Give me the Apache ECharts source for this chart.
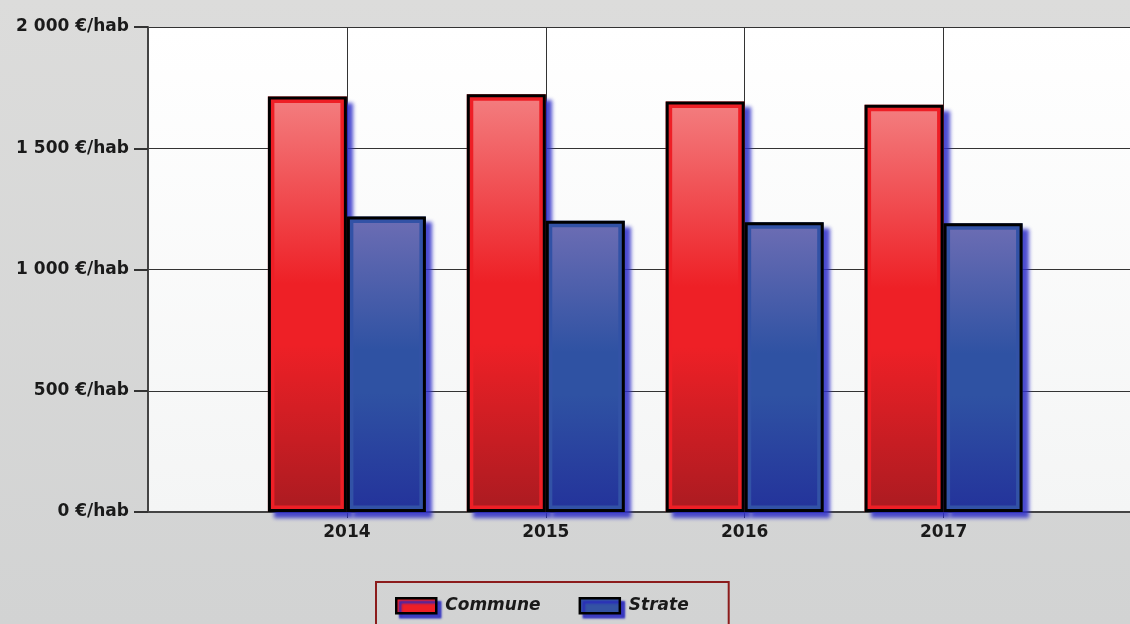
<!DOCTYPE html>
<html>
<head>
<meta charset="utf-8">
<script src="https://cdn.jsdelivr.net/npm/echarts@6/dist/echarts.min.js"></script>
<style>
  html, body { margin: 0; padding: 0; }
  #main { width: 1130px; height: 624px; }
</style>
</head>
<body>
<div id="main"></div>
<script>
// données
const years = [2014, 2015, 2016, 2017];
const commune = [1713, 1723, 1693, 1679];
const strate = [1219, 1201, 1195, 1191];
const yTicks = [0, 500, 1000, 1500, 2000];

const font = "'DejaVu Sans', Verdana, sans-serif";
const shadow = "rgba(45,45,200,0.85)";
const BAR_W = 79;
const INSET = 6.5;

let fmtHab = (v) => {
  // 2000 -> "2 000 €/hab"
  let s = String(v).replace(/\B(?=(\d{3})+(?!\d))/g, " ");
  return s + " €/hab";
};

let grad = (top, mid, bottom) =>
  new echarts.graphic.LinearGradient(0, 0, 0, 1, [
    { offset: 0, color: top },
    { offset: 0.45, color: mid },
    { offset: 0.6, color: mid },
    { offset: 1, color: bottom },
  ]);

let xMin = years[0] - 1;
let xMax = years[0] - 1 + 984 / 199.3;

let xAxisBase = {
  type: "value",
  min: xMin,
  max: xMax,
  interval: 1,
};
let yAxisBase = {
  type: "value",
  min: yTicks[0],
  max: yTicks[yTicks.length - 1],
  interval: 500,
};

// couche cadre + ombre
let fillSeries = (name, vals, frame) => ({
  name: name,
  type: "bar",
  xAxisIndex: 0,
  yAxisIndex: 0,
  data: years.map((y, i) => [y, vals[i]]),
  barWidth: BAR_W,
  barGap: "0%",
  itemStyle: {
    color: frame,
    borderWidth: 0,
    shadowColor: shadow,
    shadowBlur: 4,
    shadowOffsetX: 6,
    shadowOffsetY: 6,
  },
  z: 3,
});

// dégradé intérieur (side: -1 gauche, +1 droite)
let innerSeries = (name, vals, colors, side) => ({
  name: name,
  type: "custom",
  xAxisIndex: 0,
  yAxisIndex: 0,
  data: years.map((y, i) => [y, vals[i]]),
  renderItem: (params, api) => {
    let top = api.coord([api.value(0), api.value(1)]);
    let base = api.coord([api.value(0), 0]);
    let cx = top[0] + side * BAR_W / 2;
    let x0 = cx - BAR_W / 2 + INSET;
    let y0 = top[1] + INSET;
    return {
      type: "rect",
      shape: { x: x0, y: y0, width: BAR_W - 2 * INSET, height: base[1] - INSET - y0 },
      style: { fill: grad(colors[0], colors[1], colors[2]) },
    };
  },
  z: 4,
});

// couche contour noir (axes invisibles identiques)
let borderSeries = (name, vals) => ({
  name: name,
  type: "bar",
  xAxisIndex: 1,
  yAxisIndex: 1,
  data: years.map((y, i) => [y, vals[i]]),
  barWidth: BAR_W,
  barGap: "0%",
  itemStyle: {
    color: "rgba(0,0,0,0)",
    borderColor: "#000",
    borderWidth: 3,
  },
  z: 5,
});

let legendItem = (name, color) => ({
  name: name,
  itemStyle: {
    color: color,
    borderColor: "#000",
    borderWidth: 2.5,
    shadowColor: "rgba(40,40,190,0.9)",
    shadowBlur: 2,
    shadowOffsetX: 4,
    shadowOffsetY: 4,
  },
});

let initChart = () => {
  let myChart = echarts.init(document.getElementById("main"));
  let option = {
    animation: false,
    backgroundColor: new echarts.graphic.LinearGradient(0, 0, 0, 1, [
      { offset: 0, color: "#dcdcdb" },
      { offset: 1, color: "#d2d3d3" },
    ]),
    grid: {
      left: 148,
      right: -2,
      top: 27,
      bottom: 112,
      show: true,
      borderWidth: 0,
      backgroundColor: new echarts.graphic.LinearGradient(0, 0, 0, 1, [
        { offset: 0, color: "#ffffff" },
        { offset: 1, color: "#f4f5f5" },
      ]),
    },
    xAxis: [
      Object.assign({}, xAxisBase, {
        axisLine: { show: true, lineStyle: { color: "#444", width: 2 } },
        axisTick: { show: true, length: 6, customValues: years, lineStyle: { color: "#333" } },
        splitLine: { show: true, lineStyle: { color: "#333", width: 1 } },
        axisLabel: {
          showMaxLabel: false,
          margin: 12,
          color: "#1a1a1a",
          fontFamily: font,
          fontWeight: "bold",
          fontSize: 17,
          formatter: (v) => (years.indexOf(v) >= 0 ? String(v) : ""),
        },
      }),
      Object.assign({}, xAxisBase, { show: false }),
    ],
    yAxis: [
      Object.assign({}, yAxisBase, {
        axisLine: { show: true, lineStyle: { color: "#444", width: 2 } },
        axisTick: { show: true, length: 14, lineStyle: { color: "#333", width: 2 } },
        splitLine: { show: true, lineStyle: { color: "#333", width: 1 } },
        axisLabel: {
          margin: 19,
          color: "#1a1a1a",
          fontFamily: font,
          fontWeight: "bold",
          fontSize: 17,
          formatter: fmtHab,
        },
      }),
      Object.assign({}, yAxisBase, { show: false }),
    ],
    legend: {
      left: 376,
      top: 582,
      orient: "horizontal",
      icon: "rect",
      itemWidth: 40,
      itemHeight: 15,
      itemGap: 38,
      padding: [15, 40, 40, 19],
      borderColor: "#8c1c1c",
      borderWidth: 2,
      textStyle: {
        color: "#1a1a1a",
        fontFamily: font,
        fontWeight: "bold",
        fontStyle: "italic",
        fontSize: 17,
        padding: [0, 0, 0, 4],
      },
      data: [legendItem("Commune", "#ee1f26"), legendItem("Strate", "#3453a4")],
    },
    series: [
      fillSeries("Commune", commune, "#ee1f26"),
      fillSeries("Strate", strate, "#3252a6"),
      innerSeries("Commune", commune, ["#f37b7d", "#ee2026", "#ad1b21"], -1),
      innerSeries("Strate", strate, ["#6a6cb3", "#2f52a3", "#24349b"], 1),
      borderSeries("Commune", commune),
      borderSeries("Strate", strate),
    ],
  };
  myChart.setOption(option);
};

initChart();
</script>
</body>
</html>
